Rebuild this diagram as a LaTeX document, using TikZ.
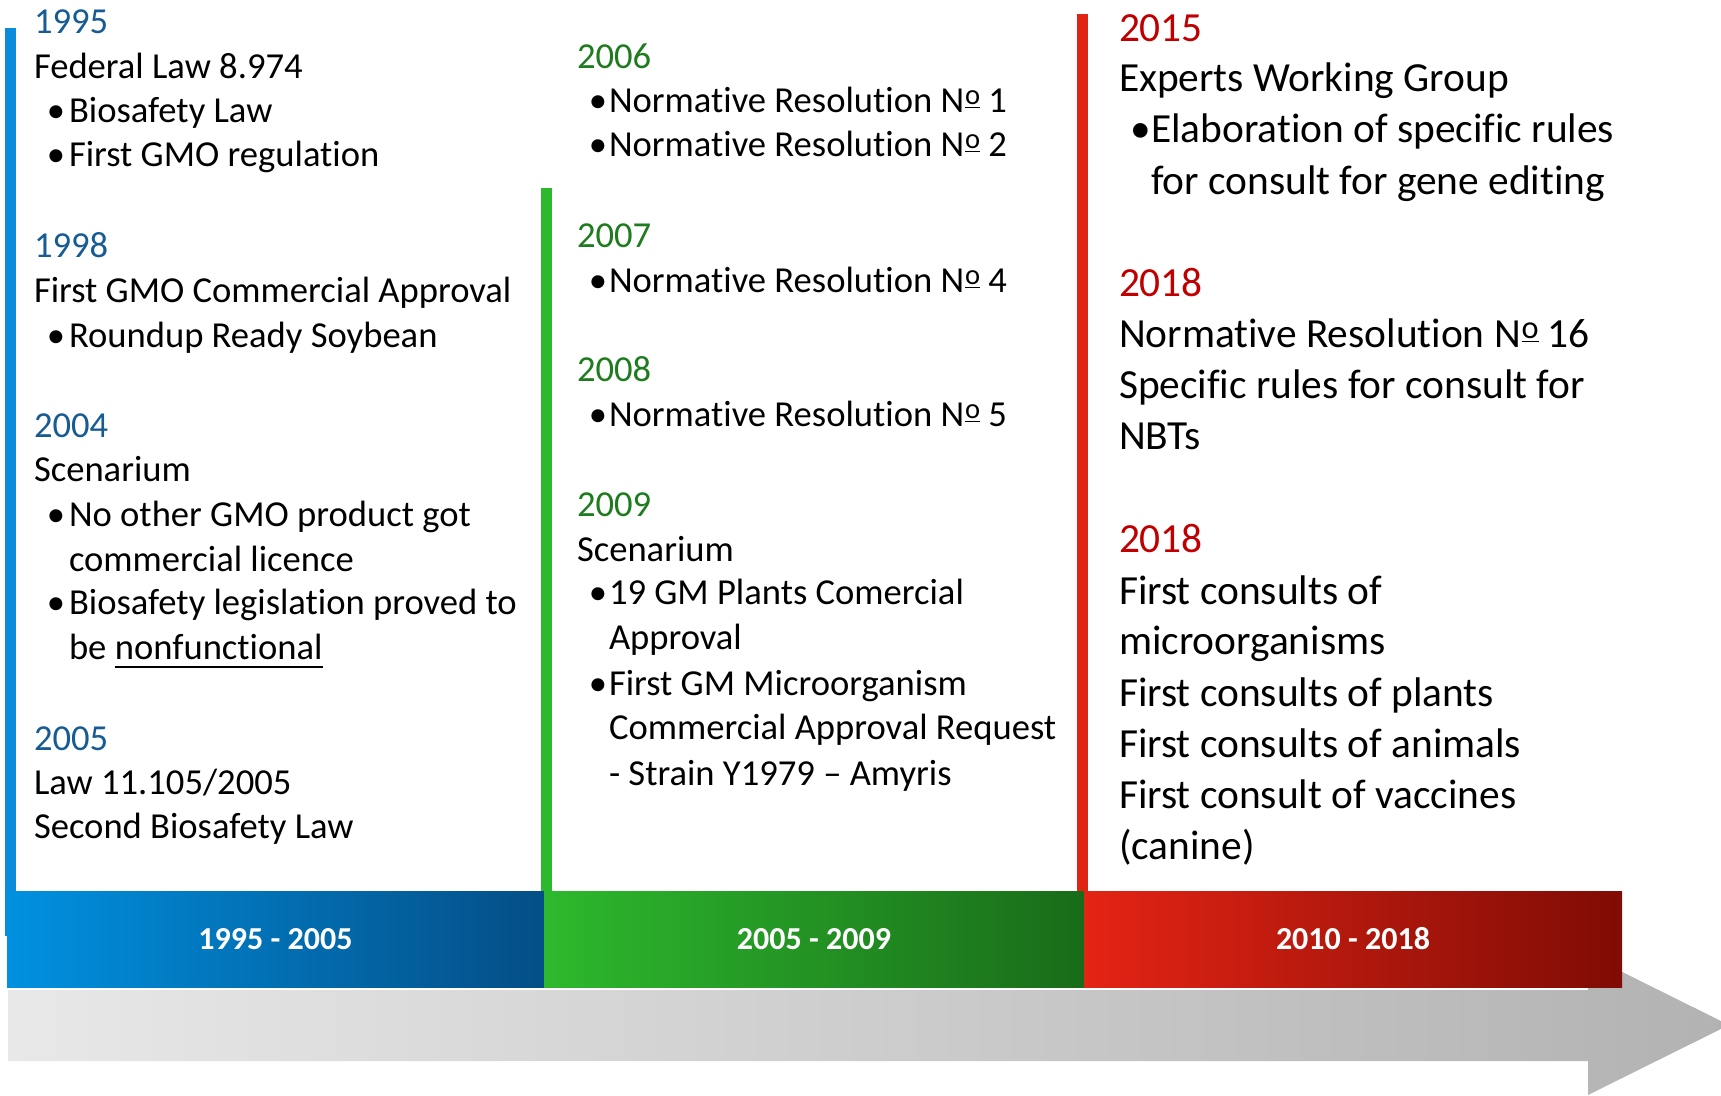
\documentclass[tikz,border=0pt]{standalone}
\usepackage{graphicx}
\usepackage{fontspec}
\setmainfont[Ligatures=NoCommon]{Carlito}
% raised, underlined ordinal "o" as in "Nº"
\newcommand{\ordo}{\kern0.4pt\raisebox{0.22em}{\scalebox{0.78}{\underline{o}}}}
\definecolor{blueBar}{HTML}{0A8BDB}
\definecolor{blueL}{HTML}{0091E0}
\definecolor{blueR}{HTML}{044E86}
\definecolor{greenBar}{HTML}{2DB92D}
\definecolor{greenL}{HTML}{2DB92D}
\definecolor{greenR}{HTML}{196C19}
\definecolor{redBar}{HTML}{E02414}
\definecolor{redL}{HTML}{E42414}
\definecolor{redR}{HTML}{7F0C05}
\definecolor{yearBlue}{HTML}{165B94}
\definecolor{yearGreen}{HTML}{1E7B1E}
\definecolor{yearRed}{HTML}{C00000}
\definecolor{arrowL}{HTML}{E8E8E8}
\definecolor{arrowR}{HTML}{B2B2B2}
\begin{document}
\begin{tikzpicture}[x=0.5pt,y=-0.5pt,
  ln/.style={anchor=base west, inner sep=0pt, outer sep=0pt, font=\fontsize{18.3}{22}\selectfont},
  lnr/.style={anchor=base west, inner sep=0pt, outer sep=0pt, font=\fontsize{20.7}{25}\selectfont},
  bul/.style={anchor=base, inner sep=0pt, outer sep=0pt, font=\fontsize{18.3}{22}\selectfont},
  bulr/.style={anchor=base, inner sep=0pt, outer sep=0pt, font=\fontsize{20.7}{25}\selectfont},
  band/.style={inner sep=0pt, minimum height=48pt, text=white,
    font=\bfseries\fontsize{16}{19}\selectfont}]
\useasboundingbox (0,0) rectangle (1721,1096);

% grey time arrow
\begin{scope}
\clip (0,0) rectangle (1721,1096);
\shade[left color=arrowL, right color=arrowR]
  (8,990) -- (1588,990) -- (1588,955) -- (1729,1025) -- (1588,1095)
  -- (1588,1061) -- (8,1061) -- cycle;
\end{scope}

% vertical period markers
\fill[blueBar]  (5,28)    rectangle (15.5,936);
\fill[greenBar] (541,188) rectangle (552,891);
\fill[redBar]   (1077,14) rectangle (1088,893);

% period bands
\node[band, left color=blueL, right color=blueR, minimum width=268.5pt]
  (p1) at (275.5,939) {1995 - 2005};
\node[band, left color=greenL, right color=greenR, minimum width=270pt]
  (p2) at (814,939) {2005 - 2009};
\node[band, left color=redL, right color=redR, minimum width=269pt]
  (p3) at (1353,939) {2010 - 2018};

% ---- 1995 - 2005 ----
\node[ln, text=yearBlue] (y1995) at (34,34) {1995};
\node[ln] (h1995) at (34,79) {Federal Law 8.974};
\node[bul] (d1a) at (56,123) {•};
\node[ln] (t1a) at (69,123) {Biosafety Law};
\node[bul] (d1b) at (56,167) {•};
\node[ln] (t1b) at (69,167) {First GMO regulation};

\node[ln, text=yearBlue] (y1998) at (34,258) {1998};
\node[ln] (h1998) at (34,303) {First GMO Commercial Approval};
\node[bul] (d2a) at (56,348) {•};
\node[ln] (t2a) at (69,348) {Roundup Ready Soybean};

\node[ln, text=yearBlue] (y2004) at (34,438) {2004};
\node[ln] (h2004) at (34,482) {Scenarium};
\node[bul] (d3a) at (56,527) {•};
\node[ln] (t3a) at (69,527) {No other GMO product got};
\node[ln] (t3b) at (69,572) {commercial licence};
\node[bul] (d3c) at (56,615) {•};
\node[ln] (t3c) at (69,615) {Biosafety legislation proved to};
\node[ln] (t3d) at (69,660) {be};
\node[ln, anchor=base west] (nf) at ([xshift=4.2pt]t3d.base east) {nonfunctional};
\draw[line width=0.9pt] ([yshift=-3.4pt]nf.base west) -- ([yshift=-3.4pt]nf.base east);

\node[ln, text=yearBlue] (y2005) at (34,751) {2005};
\node[ln] (h2005) at (34,795) {Law 11.105/2005};
\node[ln] (t4a) at (34,839) {Second Biosafety Law};

% ---- 2005 - 2009 ----
\node[ln, text=yearGreen] (y2006) at (577,69) {2006};
\node[bul] (d5a) at (598,113) {•};
\node[ln] (t5a) at (609,113) {Normative Resolution N\ordo\ 1};
\node[bul] (d5b) at (598,157) {•};
\node[ln] (t5b) at (609,157) {Normative Resolution N\ordo\ 2};

\node[ln, text=yearGreen] (y2007) at (577,248) {2007};
\node[bul] (d6a) at (598,293) {•};
\node[ln] (t6a) at (609,293) {Normative Resolution N\ordo\ 4};

\node[ln, text=yearGreen] (y2008) at (577,382) {2008};
\node[bul] (d7a) at (598,427) {•};
\node[ln] (t7a) at (609,427) {Normative Resolution N\ordo\ 5};

\node[ln, text=yearGreen] (y2009) at (577,517) {2009};
\node[ln] (h2009) at (577,562) {Scenarium};
\node[bul] (d8a) at (598,605) {•};
\node[ln] (t8a) at (609,605) {19 GM Plants Comercial};
\node[ln] (t8b) at (609,650) {Approval};
\node[bul] (d8c) at (598,696) {•};
\node[ln] (t8c) at (609,696) {First GM Microorganism};
\node[ln] (t8d) at (609,740) {Commercial Approval Request};
\node[ln] (t8e) at (609,785) {- Strain Y1979 – Amyris};

% ---- 2010 - 2018 ----
\node[lnr, text=yearRed] (y2015) at (1119,42) {2015};
\node[lnr] (h2015) at (1119,92) {Experts Working Group};
\node[bulr] (d9a) at (1141,143) {•};
\node[lnr] (t9a) at (1151,143) {Elaboration of specific rules};
\node[lnr] (t9b) at (1151,195) {for consult for gene editing};

\node[lnr, text=yearRed] (y2018a) at (1119,297) {2018};
\node[lnr] (h2018a) at (1119,348) {Normative Resolution N\ordo\ 16};
\node[lnr] (t10a) at (1119,399) {Specific rules for consult for};
\node[lnr] (t10b) at (1119,450) {NBTs};

\node[lnr, text=yearRed] (y2018b) at (1119,553) {2018};
\node[lnr] (t11a) at (1119,605) {First consults of};
\node[lnr] (t11b) at (1119,655) {microorganisms};
\node[lnr] (t11c) at (1119,707) {First consults of plants};
\node[lnr] (t11d) at (1119,758) {First consults of animals};
\node[lnr] (t11e) at (1119,808) {First consult of vaccines};
\node[lnr] (t11f) at (1119,859) {(canine)};
\end{tikzpicture}
\end{document}
